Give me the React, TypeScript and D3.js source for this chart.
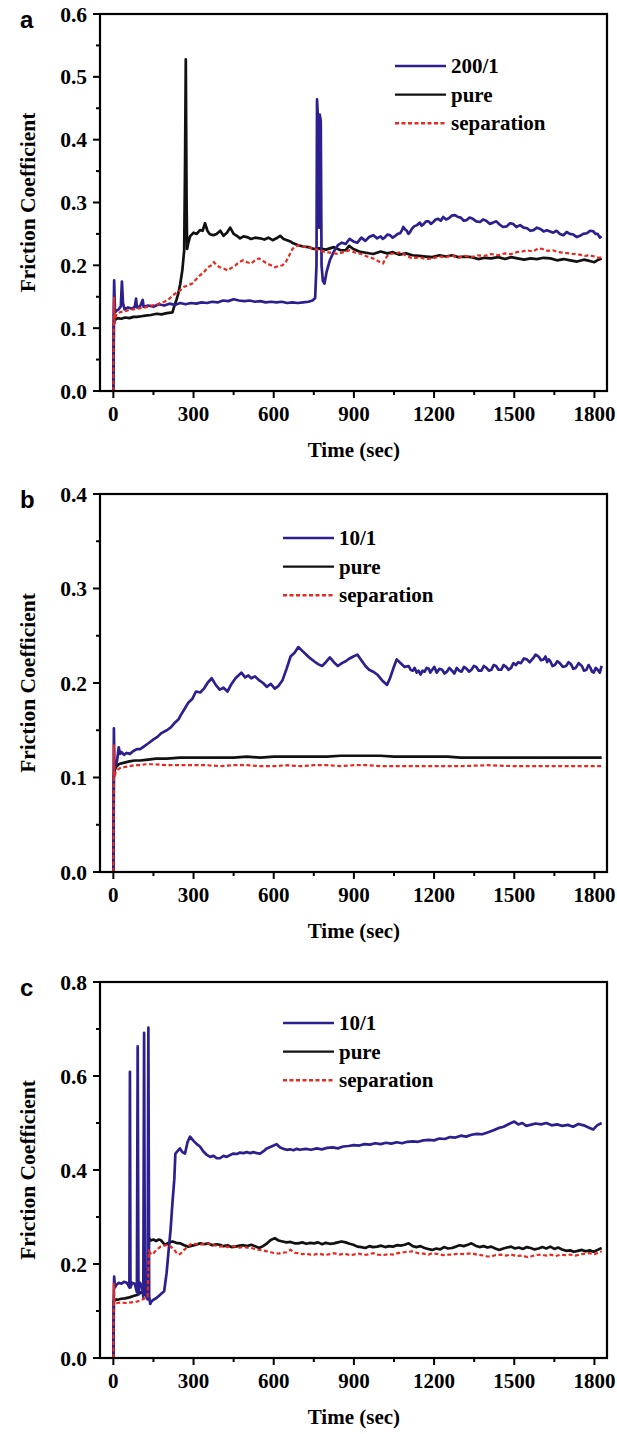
import React from 'react';
import * as d3 from 'd3';

// ---------- axis values ----------
const xMajor = [0, 300, 600, 900, 1200, 1500, 1800];
const xMinor = [150, 450, 750, 1050, 1350, 1650];
const aYMajor = [0, 0.1, 0.2, 0.3, 0.4, 0.5, 0.6];
const aYMinor = [0.05, 0.15, 0.25, 0.35, 0.45, 0.55];
const bYMajor = [0, 0.1, 0.2, 0.3, 0.4];
const bYMinor = [0.05, 0.15, 0.25, 0.35];
const cYMajor = [0, 0.2, 0.4, 0.6, 0.8];
const cYMinor = [0.1, 0.3, 0.5, 0.7];

// ---------- legend labels ----------
const aLabels = ['200/1', 'pure', 'separation'];
const bLabels = ['10/1', 'pure', 'separation'];
const cLabels = ['10/1', 'pure', 'separation'];

// ---------- panel a ----------
const aBlue: [number, number][] = [[0,0],[1,0.12],[3,0.176],[6,0.125],[12,0.128],[20,0.13],[28,0.135],[32,0.174],[36,0.14],[42,0.13],[55,0.133],[70,0.131],[80,0.134],[85,0.147],[88,0.133],[100,0.135],[110,0.145],[113,0.134],[130,0.136],[150,0.134],[170,0.138],[190,0.136],[210,0.139],[230,0.137],[250,0.14],[270,0.138],[290,0.14],[310,0.139],[330,0.141],[350,0.14],[370,0.142],[390,0.141],[410,0.144],[430,0.143],[450,0.146],[470,0.144],[490,0.143],[510,0.144],[530,0.142],[550,0.143],[570,0.141],[590,0.142],[610,0.141],[630,0.142],[650,0.14],[670,0.141],[690,0.14],[710,0.141],[730,0.142],[745,0.144],[755,0.148],[760,0.2],[762,0.464],[766,0.43],[770,0.26],[772,0.44],[776,0.43],[779,0.2],[784,0.175],[790,0.171],[798,0.19],[810,0.208],[825,0.222],[840,0.232],[855,0.236],[869,0.234],[884,0.242],[898,0.238],[913,0.236],[928,0.244],[943,0.239],[957,0.245],[972,0.248],[987,0.243],[1000,0.246],[1008,0.242],[1015,0.244],[1025,0.249],[1035,0.248],[1045,0.244],[1055,0.247],[1064,0.25],[1073,0.251],[1080,0.256],[1085,0.261],[1092,0.257],[1098,0.255],[1104,0.25],[1110,0.253],[1117,0.258],[1125,0.262],[1136,0.264],[1147,0.268],[1153,0.263],[1160,0.265],[1170,0.27],[1180,0.27],[1188,0.266],[1197,0.269],[1206,0.273],[1215,0.274],[1225,0.271],[1234,0.277],[1245,0.273],[1255,0.275],[1266,0.279],[1278,0.28],[1289,0.277],[1300,0.276],[1311,0.271],[1322,0.272],[1333,0.276],[1345,0.274],[1358,0.27],[1372,0.269],[1383,0.273],[1395,0.271],[1408,0.266],[1421,0.268],[1433,0.27],[1445,0.265],[1458,0.261],[1472,0.262],[1484,0.267],[1495,0.266],[1508,0.261],[1522,0.264],[1535,0.26],[1548,0.259],[1560,0.255],[1572,0.256],[1585,0.26],[1597,0.258],[1610,0.254],[1622,0.256],[1634,0.254],[1646,0.252],[1658,0.255],[1671,0.25],[1684,0.248],[1696,0.253],[1708,0.25],[1721,0.249],[1734,0.245],[1746,0.247],[1758,0.25],[1771,0.251],[1784,0.255],[1796,0.254],[1804,0.25],[1812,0.25],[1820,0.244],[1827,0.246]];
const aBlack: [number, number][] = [[0,0],[2,0.105],[5,0.112],[15,0.116],[30,0.115],[44,0.117],[60,0.116],[75,0.118],[88,0.118],[105,0.119],[120,0.12],[140,0.121],[162,0.123],[180,0.122],[200,0.124],[221,0.125],[228,0.135],[236,0.145],[243,0.155],[250,0.17],[258,0.192],[265,0.224],[268,0.35],[271,0.528],[274,0.3],[276,0.226],[280,0.235],[287,0.246],[300,0.252],[312,0.25],[324,0.256],[334,0.255],[343,0.267],[352,0.255],[360,0.25],[374,0.248],[386,0.25],[400,0.255],[412,0.247],[425,0.252],[437,0.26],[450,0.25],[462,0.247],[474,0.243],[487,0.246],[500,0.245],[515,0.242],[530,0.244],[549,0.243],[565,0.241],[580,0.244],[596,0.24],[610,0.243],[624,0.247],[637,0.242],[650,0.24],[662,0.238],[673,0.235],[692,0.232],[710,0.23],[730,0.229],[751,0.226],[770,0.227],[795,0.225],[825,0.229],[850,0.224],[869,0.224],[882,0.231],[898,0.226],[920,0.222],[945,0.22],[972,0.218],[1000,0.222],[1025,0.219],[1046,0.221],[1070,0.217],[1095,0.219],[1119,0.216],[1145,0.215],[1170,0.214],[1193,0.213],[1220,0.216],[1245,0.214],[1267,0.216],[1290,0.213],[1315,0.214],[1340,0.213],[1365,0.21],[1390,0.212],[1414,0.211],[1440,0.213],[1465,0.21],[1488,0.213],[1512,0.211],[1537,0.209],[1561,0.211],[1585,0.21],[1610,0.212],[1635,0.211],[1660,0.208],[1685,0.21],[1709,0.208],[1735,0.206],[1760,0.209],[1782,0.207],[1800,0.205],[1815,0.209],[1827,0.211]];
const aRed: [number, number][] = [[0,0],[1,0.09],[3,0.15],[5,0.11],[10,0.12],[15,0.124],[30,0.126],[45,0.127],[59,0.129],[75,0.13],[90,0.131],[103,0.132],[120,0.133],[140,0.136],[162,0.137],[175,0.14],[191,0.142],[205,0.145],[221,0.152],[235,0.156],[250,0.16],[265,0.166],[280,0.168],[295,0.171],[310,0.178],[324,0.184],[340,0.19],[354,0.197],[366,0.2],[376,0.205],[387,0.2],[398,0.197],[412,0.195],[427,0.192],[442,0.196],[457,0.2],[470,0.205],[486,0.208],[500,0.205],[516,0.203],[530,0.208],[545,0.211],[560,0.207],[574,0.203],[590,0.2],[604,0.197],[620,0.199],[633,0.2],[645,0.205],[655,0.213],[663,0.22],[670,0.226],[680,0.23],[692,0.232],[707,0.23],[722,0.229],[737,0.228],[751,0.226],[772,0.224],[795,0.221],[818,0.22],[840,0.218],[862,0.221],[884,0.224],[906,0.22],[928,0.218],[950,0.214],[972,0.211],[990,0.207],[1000,0.204],[1009,0.203],[1020,0.212],[1031,0.218],[1053,0.219],[1075,0.221],[1097,0.215],[1119,0.211],[1145,0.213],[1170,0.21],[1193,0.211],[1220,0.214],[1245,0.213],[1267,0.216],[1290,0.212],[1315,0.215],[1340,0.213],[1365,0.216],[1390,0.215],[1414,0.218],[1440,0.216],[1465,0.219],[1488,0.218],[1510,0.221],[1530,0.222],[1547,0.224],[1570,0.222],[1590,0.227],[1606,0.226],[1625,0.223],[1645,0.224],[1664,0.221],[1685,0.22],[1705,0.219],[1723,0.218],[1745,0.217],[1765,0.215],[1782,0.216],[1800,0.214],[1815,0.212],[1827,0.213]];

// ---------- panel b ----------
const bBlue: [number, number][] = [[0,0],[1,0.1],[2,0.152],[4,0.11],[8,0.112],[14,0.118],[20,0.132],[25,0.125],[30,0.127],[40,0.124],[50,0.126],[62,0.125],[75,0.128],[88,0.13],[100,0.13],[115,0.133],[130,0.136],[149,0.14],[165,0.143],[180,0.147],[200,0.15],[215,0.153],[230,0.158],[245,0.162],[250,0.165],[265,0.172],[280,0.179],[295,0.183],[309,0.191],[325,0.19],[339,0.194],[352,0.2],[368,0.205],[383,0.198],[398,0.193],[412,0.195],[427,0.191],[442,0.199],[457,0.205],[468,0.208],[479,0.211],[493,0.206],[505,0.208],[516,0.205],[530,0.207],[545,0.203],[560,0.2],[574,0.196],[589,0.199],[604,0.194],[618,0.197],[633,0.203],[648,0.215],[663,0.228],[678,0.232],[692,0.238],[707,0.234],[722,0.23],[737,0.226],[751,0.223],[766,0.22],[781,0.218],[795,0.222],[810,0.227],[825,0.222],[840,0.218],[855,0.221],[869,0.223],[884,0.226],[898,0.228],[913,0.23],[928,0.224],[943,0.218],[957,0.214],[972,0.212],[987,0.209],[1005,0.203],[1024,0.198],[1035,0.205],[1047,0.215],[1060,0.225],[1075,0.221],[1090,0.217],[1105,0.218],[1112,0.214],[1120,0.213],[1127,0.216],[1135,0.211],[1142,0.213],[1149,0.209],[1157,0.213],[1165,0.212],[1172,0.216],[1180,0.215],[1186,0.211],[1193,0.214],[1201,0.217],[1210,0.211],[1220,0.215],[1230,0.214],[1239,0.21],[1248,0.212],[1257,0.216],[1267,0.213],[1276,0.21],[1285,0.216],[1294,0.213],[1303,0.212],[1312,0.217],[1322,0.215],[1331,0.212],[1340,0.214],[1349,0.218],[1358,0.217],[1367,0.213],[1377,0.213],[1386,0.218],[1396,0.216],[1405,0.213],[1414,0.214],[1423,0.219],[1432,0.218],[1441,0.214],[1451,0.214],[1460,0.219],[1470,0.217],[1479,0.214],[1488,0.216],[1497,0.221],[1506,0.219],[1515,0.222],[1525,0.221],[1536,0.226],[1547,0.225],[1558,0.222],[1570,0.226],[1580,0.23],[1591,0.228],[1600,0.224],[1610,0.225],[1617,0.228],[1623,0.222],[1629,0.225],[1635,0.223],[1643,0.218],[1652,0.219],[1661,0.223],[1670,0.221],[1682,0.217],[1694,0.218],[1703,0.222],[1712,0.22],[1721,0.215],[1730,0.216],[1741,0.221],[1753,0.218],[1761,0.213],[1770,0.214],[1778,0.219],[1785,0.216],[1791,0.212],[1797,0.211],[1805,0.216],[1812,0.214],[1820,0.211],[1827,0.218]];
const bBlack: [number, number][] = [[0,0],[2,0.1],[5,0.108],[10,0.111],[20,0.114],[30,0.115],[45,0.116],[60,0.117],[80,0.118],[100,0.118],[130,0.119],[160,0.12],[200,0.12],[250,0.121],[300,0.121],[350,0.121],[400,0.121],[450,0.121],[500,0.122],[550,0.121],[600,0.122],[650,0.122],[700,0.122],[750,0.122],[800,0.122],[850,0.123],[900,0.123],[950,0.123],[1000,0.123],[1050,0.122],[1100,0.122],[1150,0.122],[1200,0.122],[1250,0.122],[1300,0.121],[1400,0.121],[1500,0.121],[1600,0.121],[1700,0.121],[1827,0.121]];
const bRed: [number, number][] = [[0,0],[2,0.135],[4,0.1],[8,0.105],[15,0.108],[25,0.11],[40,0.111],[60,0.112],[80,0.113],[100,0.113],[120,0.114],[150,0.114],[200,0.113],[250,0.113],[300,0.113],[350,0.113],[400,0.112],[450,0.113],[500,0.113],[550,0.112],[600,0.112],[650,0.113],[700,0.112],[750,0.113],[800,0.113],[850,0.112],[900,0.113],[950,0.113],[1000,0.112],[1100,0.112],[1200,0.112],[1300,0.112],[1400,0.113],[1500,0.112],[1600,0.112],[1700,0.112],[1827,0.112]];

// ---------- panel c ----------
const cBlue: [number, number][] = [[0,0],[1,0.12],[3,0.173],[6,0.15],[10,0.155],[20,0.16],[30,0.158],[40,0.162],[50,0.16],[56,0.155],[60,0.15],[62,0.609],[64,0.15],[70,0.16],[80,0.158],[88,0.14],[91,0.663],[94,0.135],[100,0.16],[108,0.15],[112,0.13],[115,0.692],[118,0.14],[124,0.13],[128,0.125],[131,0.703],[134,0.13],[138,0.115],[142,0.12],[150,0.124],[160,0.127],[170,0.132],[180,0.137],[190,0.142],[199,0.18],[207,0.23],[214,0.272],[221,0.33],[228,0.38],[232,0.435],[240,0.44],[249,0.446],[258,0.438],[268,0.435],[278,0.46],[287,0.471],[300,0.462],[312,0.455],[324,0.45],[336,0.44],[350,0.432],[362,0.428],[375,0.43],[387,0.425],[399,0.425],[412,0.43],[424,0.428],[437,0.432],[449,0.435],[462,0.434],[474,0.437],[487,0.436],[499,0.438],[512,0.436],[524,0.438],[537,0.436],[549,0.435],[562,0.44],[574,0.446],[587,0.449],[600,0.452],[611,0.455],[624,0.448],[636,0.445],[649,0.443],[661,0.444],[674,0.442],[686,0.445],[698,0.443],[720,0.445],[740,0.443],[761,0.446],[780,0.444],[800,0.447],[820,0.448],[840,0.446],[860,0.45],[880,0.451],[900,0.453],[920,0.452],[940,0.455],[960,0.454],[980,0.457],[1000,0.455],[1020,0.458],[1040,0.456],[1060,0.459],[1080,0.457],[1100,0.46],[1120,0.461],[1140,0.46],[1160,0.463],[1180,0.464],[1200,0.463],[1220,0.467],[1240,0.466],[1260,0.47],[1280,0.469],[1300,0.473],[1320,0.471],[1340,0.475],[1360,0.477],[1380,0.476],[1400,0.48],[1420,0.484],[1440,0.489],[1460,0.492],[1480,0.498],[1500,0.503],[1515,0.497],[1530,0.5],[1545,0.494],[1560,0.496],[1580,0.499],[1600,0.497],[1620,0.5],[1640,0.495],[1660,0.497],[1680,0.494],[1700,0.496],[1720,0.492],[1740,0.498],[1760,0.495],[1780,0.49],[1795,0.486],[1810,0.495],[1827,0.5]];
const cBlack: [number, number][] = [[0,0],[2,0.12],[5,0.124],[15,0.124],[30,0.126],[44,0.127],[60,0.129],[75,0.132],[88,0.134],[103,0.139],[118,0.145],[128,0.15],[133,0.255],[140,0.25],[150,0.252],[160,0.249],[170,0.252],[177,0.251],[185,0.246],[192,0.241],[200,0.243],[210,0.246],[221,0.248],[235,0.245],[250,0.244],[265,0.24],[280,0.237],[295,0.239],[309,0.241],[325,0.244],[340,0.242],[354,0.244],[370,0.24],[385,0.242],[398,0.241],[412,0.238],[427,0.24],[442,0.236],[457,0.237],[472,0.239],[487,0.24],[500,0.238],[516,0.241],[530,0.238],[545,0.234],[560,0.238],[575,0.244],[589,0.251],[604,0.255],[618,0.25],[633,0.248],[648,0.246],[663,0.247],[678,0.244],[692,0.244],[707,0.246],[722,0.243],[737,0.245],[751,0.244],[766,0.246],[781,0.242],[795,0.245],[810,0.243],[825,0.244],[840,0.246],[854,0.248],[869,0.246],[884,0.243],[898,0.241],[913,0.237],[928,0.236],[943,0.234],[958,0.238],[972,0.236],[987,0.237],[1002,0.239],[1017,0.236],[1031,0.238],[1046,0.237],[1061,0.24],[1075,0.239],[1090,0.241],[1105,0.244],[1120,0.238],[1134,0.236],[1149,0.238],[1164,0.234],[1178,0.232],[1193,0.23],[1208,0.233],[1223,0.231],[1237,0.236],[1252,0.233],[1267,0.234],[1282,0.237],[1296,0.24],[1311,0.238],[1326,0.241],[1340,0.244],[1355,0.239],[1370,0.236],[1385,0.238],[1400,0.235],[1414,0.237],[1429,0.233],[1444,0.23],[1459,0.233],[1473,0.235],[1488,0.237],[1503,0.233],[1517,0.235],[1532,0.232],[1547,0.236],[1561,0.234],[1576,0.231],[1591,0.233],[1605,0.236],[1620,0.233],[1635,0.237],[1650,0.232],[1664,0.235],[1679,0.231],[1694,0.228],[1709,0.229],[1723,0.226],[1738,0.228],[1753,0.23],[1767,0.227],[1782,0.229],[1797,0.226],[1812,0.23],[1827,0.234]];
const cRed: [number, number][] = [[0,0],[1,0.1],[2,0.16],[4,0.12],[8,0.115],[15,0.117],[30,0.118],[45,0.117],[59,0.118],[75,0.119],[88,0.12],[103,0.123],[118,0.127],[128,0.13],[133,0.227],[140,0.222],[147,0.22],[155,0.226],[162,0.23],[170,0.234],[177,0.237],[190,0.239],[206,0.241],[215,0.237],[228,0.23],[236,0.224],[243,0.22],[252,0.222],[265,0.23],[280,0.238],[295,0.244],[310,0.242],[324,0.241],[340,0.243],[354,0.244],[370,0.24],[385,0.239],[398,0.237],[412,0.238],[427,0.236],[442,0.238],[457,0.237],[472,0.235],[487,0.236],[500,0.235],[516,0.234],[530,0.232],[545,0.23],[560,0.229],[575,0.227],[589,0.225],[604,0.223],[618,0.222],[633,0.224],[648,0.225],[663,0.23],[678,0.224],[692,0.223],[707,0.221],[722,0.222],[737,0.22],[751,0.22],[770,0.222],[790,0.219],[810,0.221],[825,0.223],[845,0.22],[865,0.222],[884,0.219],[898,0.22],[918,0.222],[938,0.219],[958,0.221],[972,0.223],[990,0.22],[1010,0.219],[1030,0.221],[1046,0.22],[1065,0.223],[1085,0.225],[1105,0.226],[1119,0.227],[1140,0.223],[1160,0.222],[1180,0.22],[1193,0.223],[1215,0.221],[1235,0.219],[1255,0.22],[1267,0.22],[1290,0.222],[1315,0.221],[1340,0.223],[1360,0.22],[1385,0.218],[1400,0.216],[1414,0.216],[1430,0.219],[1450,0.22],[1470,0.218],[1488,0.22],[1510,0.217],[1530,0.218],[1547,0.215],[1561,0.216],[1580,0.219],[1600,0.22],[1620,0.218],[1635,0.22],[1655,0.217],[1675,0.22],[1690,0.219],[1709,0.22],[1730,0.218],[1750,0.221],[1767,0.222],[1782,0.223],[1800,0.221],[1815,0.224],[1827,0.227]];

// ---------- styling ----------
const BLUE = '#2c1f8e';
const BLACK = '#111111';
const RED = '#e8291e';
const SERIF = "'Liberation Serif','Times New Roman',serif";
const SANS = "'Liberation Sans',Arial,sans-serif";
const X_DOMAIN: [number, number] = [-50, 1847];

type Series = [number, number][];

interface PanelProps {
  letter: string;
  top: number;
  bottom: number;
  yMax: number;
  yMajor: number[];
  yMinor: number[];
  blue: Series;
  black: Series;
  red: Series;
  labels: string[];
  legendX: number;
  legendY: number;
}

function Panel(p: PanelProps) {
  const left = 100;
  const right = 607;
  const x = d3.scaleLinear().domain(X_DOMAIN).range([left, right]);
  const y = d3.scaleLinear().domain([0, p.yMax]).range([p.bottom, p.top]);
  const line = d3
    .line<[number, number]>()
    .x((d) => x(d[0]))
    .y((d) => y(d[1]));
  const fmt = d3.format('.1f');
  const legendColors = [BLUE, BLACK, RED];
  const rowGap = 28.6;
  return (
    <g>
      <text x={20} y={p.top + 14} fontFamily={SANS} fontWeight="bold" fontSize={24} fill="#000">
        {p.letter}
      </text>
      {/* series */}
      <path d={line(p.black) || ''} fill="none" stroke={BLACK} strokeWidth={2.7} strokeLinejoin="round" />
      <path d={line(p.blue) || ''} fill="none" stroke={BLUE} strokeWidth={2.7} strokeLinejoin="round" />
      <path d={line(p.red) || ''} fill="none" stroke={RED} strokeWidth={2.2} strokeDasharray="4,2.5" />
      {/* frame */}
      <rect x={left} y={p.top} width={right - left} height={p.bottom - p.top} fill="none" stroke="#000" strokeWidth={2.2} />
      {/* x ticks */}
      {xMajor.map((t) => (
        <g key={'xm' + t}>
          <line x1={x(t)} x2={x(t)} y1={p.bottom} y2={p.bottom + 7} stroke="#000" strokeWidth={2} />
          <text x={x(t)} y={p.bottom + 30} textAnchor="middle" fontFamily={SERIF} fontWeight="bold" fontSize={21}>
            {t}
          </text>
        </g>
      ))}
      {xMinor.map((t) => (
        <line key={'xn' + t} x1={x(t)} x2={x(t)} y1={p.bottom} y2={p.bottom + 4} stroke="#000" strokeWidth={2} />
      ))}
      {/* y ticks */}
      {p.yMajor.map((v) => (
        <g key={'ym' + v}>
          <line x1={left - 7} x2={left} y1={y(v)} y2={y(v)} stroke="#000" strokeWidth={2} />
          <text x={left - 13} y={y(v)} dy="0.35em" textAnchor="end" fontFamily={SERIF} fontWeight="bold" fontSize={21.5}>
            {fmt(v)}
          </text>
        </g>
      ))}
      {p.yMinor.map((v) => (
        <line key={'yn' + v} x1={left - 4} x2={left} y1={y(v)} y2={y(v)} stroke="#000" strokeWidth={2} />
      ))}
      {/* axis titles */}
      <text x={(x(0) + x(1800)) / 2} y={p.bottom + 66} textAnchor="middle" fontFamily={SERIF} fontWeight="bold" fontSize={21}>
        Time (sec)
      </text>
      <text
        transform={`translate(35,${(p.top + p.bottom) / 2}) rotate(-90)`}
        textAnchor="middle"
        fontFamily={SERIF}
        fontWeight="bold"
        fontSize={21.5}
      >
        Friction Coefficient
      </text>
      {/* legend */}
      {p.labels.map((lab, i) => {
        const ly = p.legendY + i * rowGap;
        return (
          <g key={'lg' + i}>
            <line
              x1={p.legendX}
              x2={p.legendX + 51}
              y1={ly}
              y2={ly}
              stroke={legendColors[i]}
              strokeWidth={2.4}
              strokeDasharray={i === 2 ? '4,2.5' : undefined}
            />
            <text x={p.legendX + 56} y={ly} dy="0.33em" fontFamily={SERIF} fontWeight="bold" fontSize={21}>
              {lab}
            </text>
          </g>
        );
      })}
    </g>
  );
}

export default function App() {
  return (
    <svg
      width={617}
      height={1434}
      style={{ position: 'absolute', left: 0, top: 0, background: '#fff' }}
    >
      <rect x={0} y={0} width={617} height={1434} fill="#fff" />
      <Panel letter="a" top={14} bottom={391} yMax={0.6} yMajor={aYMajor} yMinor={aYMinor}
        blue={aBlue} black={aBlack} red={aRed} labels={aLabels} legendX={395} legendY={66} />
      <Panel letter="b" top={494} bottom={872} yMax={0.4} yMajor={bYMajor} yMinor={bYMinor}
        blue={bBlue} black={bBlack} red={bRed} labels={bLabels} legendX={283} legendY={538} />
      <Panel letter="c" top={982} bottom={1358} yMax={0.8} yMajor={cYMajor} yMinor={cYMinor}
        blue={cBlue} black={cBlack} red={cRed} labels={cLabels} legendX={283} legendY={1023} />
    </svg>
  );
}
